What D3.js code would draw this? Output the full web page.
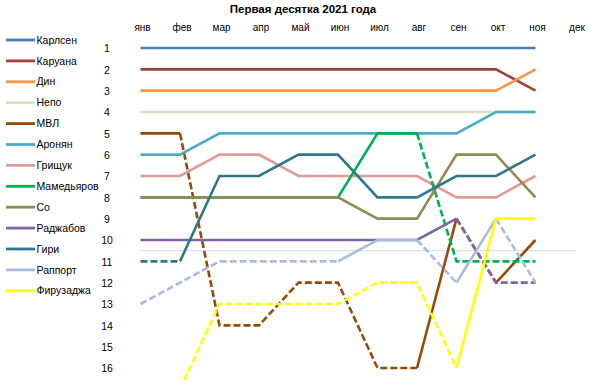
<!DOCTYPE html>
<html>
<head>
<meta charset="utf-8">
<script src="https://cdn.jsdelivr.net/npm/d3@7/dist/d3.min.js"></script>
<style>
  html, body { margin: 0; padding: 0; background: #fff; }
  svg text { font-family: "Liberation Sans", Arial, sans-serif; fill: #000; }
</style>
</head>
<body>
<svg id="chart" width="590" height="388"></svg>
<script>
const title = "Первая десятка 2021 года";
const months = ["янв","фев","мар","апр","май","июн","июл","авг","сен","окт","ноя","дек"];
const rankTicks = [1,2,3,4,5,6,7,8,9,10,11,12,13,14,15,16];
const players = ["Карлсен","Каруана","Дин","Непо","МВЛ","Аронян","Грищук","Мамедьяров","Со","Раджабов","Гири","Раппорт","Фируза"];
players[12] = "Фируза" + "джа";
const colors = ["#4a7ebb","#a0403d","#f79646","#d7e4bd","#984807","#4bacc6","#e09a98","#00b050","#948a54","#8064a2","#2f7887","#a9bcdb","#ffff00"];

const carlsen    = [1,1,1,1,1,1,1,1,1,1,1,null];
const caruana    = [2,2,2,2,2,2,2,2,2,2,3,null];
const ding       = [3,3,3,3,3,3,3,3,3,3,2,null];
const nepo       = [4,4,4,4,4,4,4,4,4,4,4,null];
const mvl        = [5,5,14,14,12,12,16,16,9,12,10,null];
const aronian    = [6,6,5,5,5,5,5,5,5,4,4,null];
const grischuk   = [7,7,6,6,7,7,7,7,8,8,7,null];
const mamedyarov = [8,8,8,8,8,8,5,5,11,11,11,null];
const so         = [8,8,8,8,8,8,9,9,6,6,8,null];
const rajabov    = [10,10,10,10,10,10,10,10,9,12,12,null];
const giri       = [11,11,7,7,6,6,8,8,7,7,6,null];
const rapport    = [13,12,11,11,11,11,10,10,12,9,12,null];
const firouzja   = [null,17,13,13,13,13,12,12,16,9,9,null];

const seriesValues = [carlsen,caruana,ding,nepo,mvl,aronian,grischuk,mamedyarov,so,rajabov,giri,rapport,firouzja];

const svg = d3.select("#chart");
const x = d3.scalePoint().domain(months).range([140.5, 575]);
const y = d3.scaleLinear().domain([1,16]).range([48, 368]);

// title
svg.append("text").attr("x", 303).attr("y", 13).attr("text-anchor","middle")
  .style("font-weight","bold").style("font-size","11.5px").text(title);

// month labels (top axis)
const xAxis = d3.axisTop(x).tickSize(0).tickPadding(0);
const gx = svg.append("g").attr("transform","translate(1.5,31)").call(xAxis);
gx.select(".domain").remove();
gx.selectAll("text").attr("dy", 0).style("font-size","10px").style("font-family","Liberation Sans, Arial, sans-serif");

// rank labels
const yAxis = d3.axisLeft(y).tickValues(rankTicks).tickFormat(d3.format("d")).tickSize(0).tickPadding(0);
const gy = svg.append("g").attr("transform","translate(112,0)").call(yAxis);
gy.select(".domain").remove();
gy.selectAll("text").attr("text-anchor","middle").attr("x",-5).attr("dy","0.35em")
  .style("font-size","10.5px").style("font-family","Liberation Sans, Arial, sans-serif");

// category axis line crossing at 10.5
svg.append("line").attr("x1", x(months[0])).attr("x2", x(months[11]))
  .attr("y1", y(10.5)).attr("y2", y(10.5)).attr("stroke","#d9d9d9").attr("stroke-width",1);

// clip
svg.append("clipPath").attr("id","plotclip").append("rect")
  .attr("x",120).attr("y",36).attr("width",465).attr("height",344);

const plot = svg.append("g").attr("clip-path","url(#plotclip)");
const line = d3.line().x(d => x(d.m)).y(d => y(d.v));

seriesValues.forEach((vals, si) => {
  // build runs: segment ending at point i is dashed if value > 10
  const pts = vals.map((v,i) => ({m: months[i], v})).filter(p => p.v !== null);
  let runs = [];
  for (let i = 1; i < pts.length; i++) {
    const dashed = pts[i].v > 10;
    const last = runs[runs.length-1];
    if (last && last.dashed === dashed) last.pts.push(pts[i]);
    else runs.push({dashed, pts: [pts[i-1], pts[i]]});
  }
  runs.forEach(r => {
    plot.append("path").attr("d", line(r.pts)).attr("fill","none")
      .attr("stroke", colors[si]).attr("stroke-width", 2.6)
      .attr("stroke-dasharray", r.dashed ? "7,3" : null);
  });
});

// legend
const leg = svg.append("g");
players.forEach((name, i) => {
  const ly = 40 + i * 20.9;
  leg.append("line").attr("x1",6).attr("x2",35).attr("y1",ly).attr("y2",ly)
    .attr("stroke",colors[i]).attr("stroke-width",2.8);
  leg.append("text").attr("x",36.5).attr("y",ly).attr("dy","0.35em")
    .style("font-size","10.5px").text(name);
});
</script>
</body>
</html>
